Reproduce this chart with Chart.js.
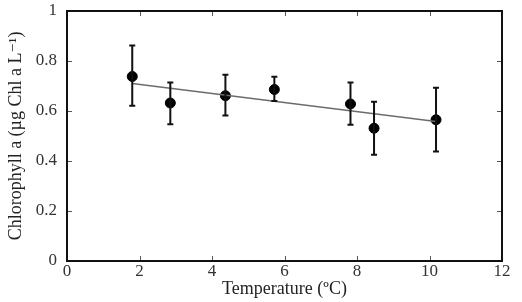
<!DOCTYPE html>
<html>
<head>
<meta charset="utf-8">
<script src="https://cdn.jsdelivr.net/npm/chart.js@4"></script>
<style>
  html, body { margin: 0; padding: 0; background: #fff; }
  #wrap { width: 522px; height: 302px; }
</style>
</head>
<body>
<div id="wrap"><canvas id="c" width="522" height="302"></canvas></div>
<script>
// temperature (ºC) and chlorophyll a
const temps = [1.8, 2.85, 4.37, 5.72, 7.82, 8.47, 10.18];
const chl = [0.738, 0.632, 0.661, 0.686, 0.628, 0.531, 0.565];
const errHigh = [0.862, 0.714, 0.745, 0.737, 0.714, 0.637, 0.693];
const errLow = [0.621, 0.547, 0.582, 0.640, 0.545, 0.425, 0.438];
// regression line ends
const fitX = [1.8, 10.18];
const fitY = [0.71, 0.558];

const serif = "'Liberation Serif', 'DejaVu Serif', serif";

// error bars + framed box with inward ticks
const frame = {
  id: 'frame',
  afterDatasetsDraw(chart) {
    const { ctx, scales: { x, y } } = chart;
    ctx.save();
    ctx.strokeStyle = '#111';
    ctx.lineWidth = 2;
    temps.forEach((t, i) => {
      const px = x.getPixelForValue(t);
      const hi = y.getPixelForValue(errHigh[i]);
      const lo = y.getPixelForValue(errLow[i]);
      ctx.beginPath();
      ctx.moveTo(px, hi); ctx.lineTo(px, lo);
      ctx.moveTo(px - 3, hi); ctx.lineTo(px + 3, hi);
      ctx.moveTo(px - 3, lo); ctx.lineTo(px + 3, lo);
      ctx.stroke();
    });
    ctx.restore();
  },
  afterDraw(chart) {
    const { ctx, chartArea: a, scales: { x, y } } = chart;
    ctx.save();
    ctx.strokeStyle = '#555';
    ctx.lineWidth = 1;
    ctx.beginPath();
    x.ticks.forEach(tk => {
      const px = Math.round(x.getPixelForValue(tk.value)) + 0.5;
      ctx.moveTo(px, a.bottom); ctx.lineTo(px, a.bottom - 5);
      ctx.moveTo(px, a.top); ctx.lineTo(px, a.top + 5);
    });
    y.ticks.forEach(tk => {
      const py = Math.round(y.getPixelForValue(tk.value)) + 0.5;
      ctx.moveTo(a.left, py); ctx.lineTo(a.left + 5, py);
      ctx.moveTo(a.right, py); ctx.lineTo(a.right - 5, py);
    });
    ctx.stroke();
    ctx.strokeStyle = '#111';
    ctx.lineWidth = 2;
    ctx.strokeRect(a.left, a.top, a.right - a.left, a.bottom - a.top);
    ctx.restore();
  }
};

new Chart(document.getElementById('c'), {
  type: 'scatter',
  data: {
    datasets: [
      {
        type: 'line',
        data: fitX.map((v, i) => ({ x: v, y: fitY[i] })),
        borderColor: '#6b6b6b',
        borderWidth: 1.5,
        pointRadius: 0,
        fill: false,
      },
      {
        data: temps.map((v, i) => ({ x: v, y: chl[i] })),
        backgroundColor: '#000',
        borderColor: '#000',
        pointRadius: 5,
      },
    ],
  },
  options: {
    responsive: false,
    animation: false,
    layout: { padding: { left: 0, right: 20, top: 11, bottom: 0 } },
    plugins: { legend: { display: false }, tooltip: { enabled: false } },
    scales: {
      x: {
        type: 'linear',
        min: 0,
        max: 12,
        grid: { display: false, drawTicks: false },
        border: { display: false },
        ticks: { stepSize: 2, color: '#333', padding: 0, font: { family: serif, size: 17 } },
        title: {
          display: true,
          text: 'Temperature (ºC)',
          color: '#222',
          font: { family: serif, size: 18 },
          padding: { top: 0, bottom: 2 },
        },
        afterFit: s => { s.height = 41; s.paddingLeft = 0; s.paddingRight = 0; },
      },
      y: {
        min: 0,
        max: 1,
        grid: { display: false, drawTicks: false },
        border: { display: false },
        ticks: {
          stepSize: 0.2, color: '#333', padding: 10,
          font: { family: serif, size: 17 },
          callback: v => String(Math.round(v * 10) / 10),
        },
        title: {
          display: true,
          text: 'Chlorophyll a (µg Chl a L⁻¹)',
          color: '#222',
          font: { family: serif, size: 18 },
          padding: { top: 5, bottom: 0 },
        },
        afterFit: s => { s.width = 67; s.paddingTop = 0; s.paddingBottom = 0; },
      },
    },
  },
  plugins: [frame],
});
</script>
</body>
</html>
